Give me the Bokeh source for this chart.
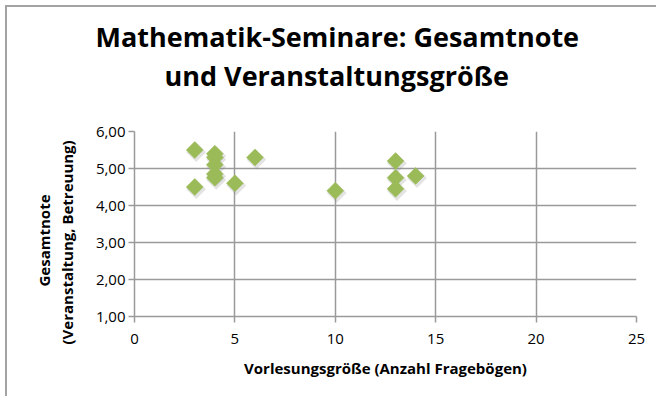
import math
from bokeh.plotting import figure
from bokeh.models import FixedTicker, Title
from bokeh.transform import dodge
from bokeh.embed import file_html
from bokeh.resources import INLINE

# ---- data ----
vorlesungsgroesse = [3, 3, 4, 4, 4, 4, 4, 5, 6, 10, 13, 13, 13, 14]
gesamtnote = [5.5, 4.5, 5.4, 5.3, 5.1, 4.85, 4.75, 4.6, 5.3, 4.4, 5.2, 4.75, 4.45, 4.8]
x_ticks = [0, 5, 10, 15, 20, 25]
y_ticks = [1, 2, 3, 4, 5, 6]
y_tick_labels = ["1,00", "2,00", "3,00", "4,00", "5,00", "6,00"]
title_lines = ["Mathematik-Seminare: Gesamtnote", "und Veranstaltungsgröße"]
x_label = "Vorlesungsgröße (Anzahl Fragebögen)"
y_label_lines = ["Gesamtnote", "(Veranstaltung, Betreuung)"]

FONT = "Open Sans"
GRID = "#9a9a9a"

p = figure(frame_width=502, frame_height=185,
           min_border_left=0, min_border_top=0, min_border_right=20, min_border_bottom=80,
           x_range=(0, 25), y_range=(1, 6),
           output_backend="svg", toolbar_location=None)
p.styles = {"margin-left": "5px", "margin-top": "5px",
            "padding-left": "24px", "padding-top": "8px",
            "border-left": "2px solid #a3a3a3", "border-top": "2px solid #a3a3a3"}
p.outline_line_color = None
p.background_fill_color = "white"
p.border_fill_color = "white"

# title: first line is the figure title (outermost)
p.title.text = title_lines[0]
p.title.align = "left"
p.title.offset = -39
p.title.text_font = FONT
p.title.text_font_style = "bold"
p.title.text_font_size = "27px"
p.title.text_color = "#000000"
p.title.standoff = 0
# empty spacer between the plot and the second title line
p.add_layout(Title(text=" ", text_font=FONT, text_font_size="26px", standoff=0), "above")
p.add_layout(Title(text=title_lines[1], align="left", offset=30, text_font=FONT,
                   text_font_style="bold", text_font_size="27px",
                   text_color="#000000", standoff=0), "above")

for ax in (p.xaxis[0], p.yaxis[0]):
    ax.axis_line_color = GRID
    ax.axis_line_width = 1.5
    ax.major_tick_line_color = GRID
    ax.major_tick_line_width = 1.5
    ax.major_tick_out = 6
    ax.major_tick_in = 0
    ax.minor_tick_line_color = None
    ax.major_label_text_font = FONT
    ax.major_label_text_font_size = "15px"
    ax.major_label_text_color = "#000000"
    ax.axis_label_text_font = FONT
    ax.axis_label_text_font_style = "bold"
    ax.axis_label_text_font_size = "15px"
    ax.axis_label_text_color = "#000000"

p.xaxis[0].ticker = FixedTicker(ticks=x_ticks)
p.yaxis[0].ticker = FixedTicker(ticks=y_ticks)
p.yaxis[0].major_label_overrides = {t: l for t, l in zip(y_ticks, y_tick_labels)}
p.xaxis[0].major_label_standoff = 11
p.yaxis[0].major_label_standoff = 3
p.xaxis[0].axis_label = x_label
p.xaxis[0].axis_label_standoff = 11

# y axis label as two rotated lines on the left (spacer first, next to the axis)
p.add_layout(Title(text=" ", text_font=FONT, text_font_size="10.5px", standoff=0), "left")
for line, so, off in [(y_label_lines[1], 0, -28), (y_label_lines[0], 1, 30)]:
    p.add_layout(Title(text=line, align="left", text_font=FONT, text_font_style="bold",
                       text_font_size="15px", text_color="#000000",
                       standoff=so, offset=off), "left")

p.xgrid.grid_line_color = GRID
p.ygrid.grid_line_color = GRID
p.xgrid.grid_line_width = 1.5
p.ygrid.grid_line_width = 1.5

src = dict(x=vorlesungsgroesse, y=gesamtnote)
# soft shadow
p.scatter(x=dodge("x", 0.07), y=dodge("y", -0.06), source=src, marker="square",
          angle=math.pi / 4, size=14, fill_color="#7f7f7f", fill_alpha=0.22, line_color=None)
p.scatter(x="x", y="y", source=src, marker="square", angle=math.pi / 4, size=12,
          fill_color="#9BBB59", line_color="#9BBB59", line_width=0.5)

open("out.html", "w").write(file_html(p, INLINE))
